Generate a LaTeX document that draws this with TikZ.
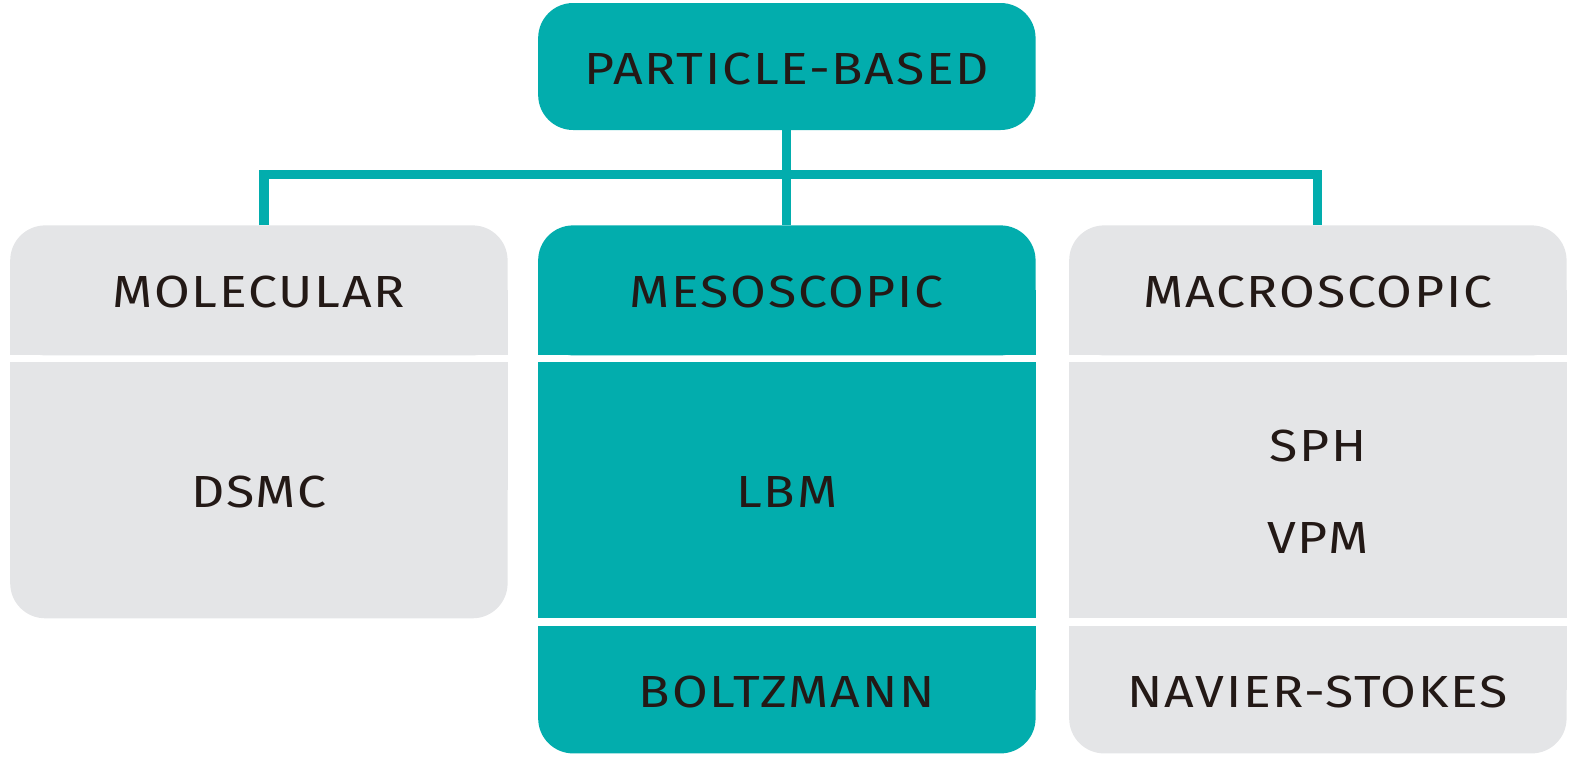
\documentclass[tikz,border=0pt]{standalone}
\usepackage{fontspec}
\setmainfont{Fira Sans}[LetterSpace=4, FakeStretch=1.15]
\usepackage{xcolor}
\usetikzlibrary{positioning, backgrounds}
\definecolor{tealbox}{HTML}{02ADAD}
\definecolor{greybox}{HTML}{E4E5E7}
\definecolor{inktext}{HTML}{231916}

\begin{document}
\begin{tikzpicture}[x=0.50765pt, y=-0.50765pt,
    cell/.style={rectangle, inner sep=0pt, outer sep=0pt, text=inktext, font=\fontsize{22.5}{46}\selectfont, minimum width=248.7pt, align=center, rounded corners=17.5pt, text height=17.5pt, text depth=0pt},
    head/.style={cell, minimum height=65pt},
    body/.style={cell, minimum height=127.9pt},
    foot/.style={cell, minimum height=63.5pt},
    link/.style={line width=4.6pt, draw=tealbox}]
                        \useasboundingbox (0,0) rectangle (1568,755);
                        \node[cell, fill=tealbox, minimum height=63.5pt] (root) at (775,65.5) {PARTICLE-BASED};
                        \node[head, fill=greybox] (mol) at (255,286) {MOLECULAR};
                        \node[head, fill=tealbox] (meso) at (775,286) {MESOSCOPIC};
                        \node[head, fill=greybox] (macro) at (1298,286) {MACROSCOPIC};
                        \node[body, fill=greybox] (dsmc) at (255,483) {DSMC};
                        \node[body, fill=tealbox, sharp corners] (lbm) at (775,483) {LBM};
                        \node[body, fill=greybox, sharp corners, text height=63.5pt] (sph) at (1298,483) {SPH\\VPM};
                        \node[foot, fill=tealbox] (boltz) at (775,679.5) {BOLTZMANN};
                        \node[foot, fill=greybox] (navier) at (1298,679.5) {NAVIER-STOKES};
                        \coordinate (hub) at (775,172);
                        % square off the inner corners
                        \begin{scope}[on background layer]
                        \fill[greybox] (mol.west) rectangle (mol.south east);
                        \fill[tealbox] (meso.west) rectangle (meso.south east);
                        \fill[greybox] (macro.west) rectangle (macro.south east);
                        \fill[greybox] (dsmc.north west) rectangle (dsmc.east);
                        \fill[tealbox] (boltz.north west) rectangle (boltz.east);
                        \fill[greybox] (navier.north west) rectangle (navier.east);
                        \end{scope}
                        \draw[link] (root) -- (meso);
                        \draw[link] ([xshift=2.5pt]mol.north) |- (hub) -| (macro.north);
                    \end{tikzpicture}
\end{document}
